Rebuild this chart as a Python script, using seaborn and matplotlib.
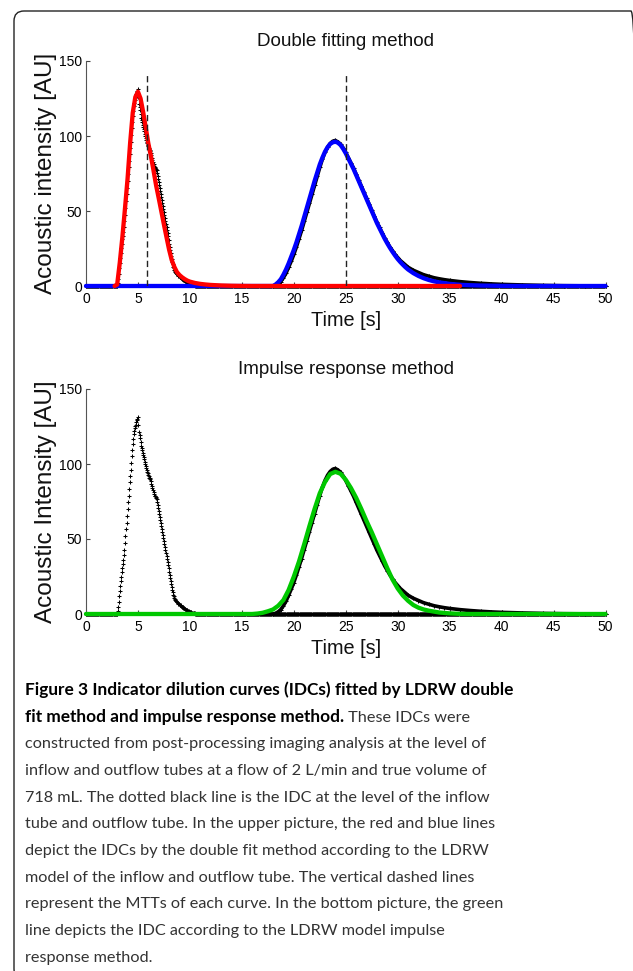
import numpy as np
import matplotlib
matplotlib.use("Agg")
import matplotlib.pyplot as plt
import matplotlib.transforms as mtransforms
from matplotlib.patches import FancyBboxPatch
import seaborn as sns

# ---------------- data ----------------
inflow_time = np.round(np.arange(0, 50.0001, 0.05), 2)
inflow_start = 3.0
inflow_peak = [0, 2, 5, 8, 12, 15.5, 19, 22, 25, 28,
               31, 33.5, 36, 39.5, 43, 47.5, 52, 56.5, 61, 65.5,
               70, 74.5, 79, 83.5, 88, 92, 96, 100.5, 105, 109,
               113, 116.5, 120, 122, 124, 125, 126, 128, 130, 129,
               131, 126, 121, 119, 117, 114.5, 112, 110.5, 109, 107.5,
               106, 104.5, 103, 101.5, 100, 98.5, 97, 96, 95, 94,
               93, 92, 91, 90.5, 90, 88.5, 87, 85.5, 84, 82.5,
               81, 80, 79, 78.5, 78, 77.5, 77, 75, 73, 71,
               69, 67, 65, 63, 61, 59, 57, 55, 53, 51,
               49, 47, 45, 43, 41, 39, 37, 35, 33, 30.5,
               28, 26, 24, 22, 20, 18, 16, 14.5, 13, 12,
               11, 10.2, 9.5, 9, 8.5, 8.1, 7.8, 7.4, 7, 6.6,
               6.3, 6, 5.7, 5.3, 5, 4.7, 4.5, 4.2, 4, 3.7,
               3.5, 3.2, 3, 2.8, 2.6, 2.4, 2.2, 2, 1.8, 1.6,
               1.5, 1.35, 1.2, 1.05, 0.9, 0.8, 0.7, 0.6, 0.5, 0.4,
               0.3, 0.25, 0.2, 0.15, 0.1, 0.05, 0]

outflow_time = [0, 18.0, 18.25, 18.5, 18.75, 19.0, 19.25, 19.5, 19.75, 20.0,
                20.25, 20.5, 20.75, 21.0, 21.25, 21.5, 21.75, 22.0, 22.25, 22.5,
                22.75, 23.0, 23.25, 23.5, 23.75, 24.0, 24.25, 24.5, 24.75, 25.0,
                25.25, 25.5, 25.75, 26.0, 26.25, 26.5, 26.75, 27.0, 27.25, 27.5,
                27.75, 28.0, 28.25, 28.5, 28.75, 29.0, 29.25, 29.5, 29.75, 30.0,
                30.25, 30.5, 30.75, 31.0, 31.5, 32.0, 32.5, 33.0, 33.5, 34.0,
                34.5, 35.0, 36.0, 37.0, 38.0, 39.0, 40.0, 42.0, 44.0, 46.0,
                48.0, 50.0]
outflow_values = [0, 0, 0.5, 1.5, 3, 5.5, 8.5, 12.5, 16.5, 21,
                  26, 31.5, 37, 43, 49, 55, 61, 67, 73, 79,
                  84.5, 89, 92.5, 95, 96.5, 97, 96, 94.5, 92, 89,
                  85.5, 82, 78.5, 74.5, 70.5, 66.5, 62.5, 58.5, 54.5, 50.5,
                  46.5, 42.5, 39, 35.5, 32, 29, 26, 23.5, 21, 19,
                  17, 15.5, 14, 12.5, 10.5, 9, 7.5, 6.5, 5.5, 4.8,
                  4.2, 3.7, 2.9, 2.3, 1.8, 1.4, 1.1, 0.7, 0.4, 0.2,
                  0.1, 0]

red_time = [2.75, 3.0, 3.25, 3.5, 3.75, 4.0, 4.25, 4.5, 4.75, 5.0,
            5.25, 5.5, 5.75, 6.0, 6.25, 6.5, 6.75, 7.0, 7.25, 7.5,
            7.75, 8.0, 8.25, 8.5, 8.75, 9.0, 9.25, 9.5, 9.75, 10.0,
            10.5, 11.0, 11.5, 12.0, 13.0, 14.0, 15.0, 16.0, 36.0]
red_values = [0, 1, 15.5, 32.5, 51.5, 71.5, 95.5, 115.5, 126, 129.5,
              125, 116, 105.5, 95, 86.5, 77, 67, 58.5, 49.8, 41,
              32.5, 24.2, 17.3, 12.8, 9.3, 7.3, 5.8, 4.6, 3.6, 2.9,
              2.0, 1.4, 1.0, 0.7, 0.35, 0.15, 0.05, 0, 0]

blue_time = [0, 18.0, 18.25, 18.5, 18.75, 19.0, 19.25, 19.5, 19.75, 20.0,
             20.25, 20.5, 20.75, 21.0, 21.25, 21.5, 21.75, 22.0, 22.25, 22.5,
             22.75, 23.0, 23.25, 23.5, 23.75, 24.0, 24.25, 24.5, 24.75, 25.0,
             25.25, 25.5, 25.75, 26.0, 26.25, 26.5, 26.75, 27.0, 27.25, 27.5,
             27.75, 28.0, 28.25, 28.5, 28.75, 29.0, 29.25, 29.5, 29.75, 30.0,
             30.25, 30.5, 30.75, 31.0, 31.5, 32.0, 32.5, 33.0, 33.5, 34.0,
             35.0, 36.0, 37.0, 38.0, 40.0, 42.0, 50.0]
blue_values = [0, 0, 1, 2.5, 4.5, 7.5, 11, 15, 19.5, 24,
               29, 34.5, 40, 46, 52, 58, 64, 70, 75.5, 81,
               85.5, 89.5, 92.5, 94.7, 95.8, 96.2, 95.5, 94, 91.5, 88.5,
               85, 81.5, 78, 74, 70, 66, 62, 58, 54, 50,
               46, 42, 38.5, 35, 31.5, 28.4, 25.5, 22.8, 20.3, 18,
               16, 14.2, 12.5, 11, 8.6, 6.7, 5.2, 4, 3.1, 2.4,
               1.4, 0.8, 0.5, 0.3, 0.1, 0, 0]

green_time = [0, 16.0, 16.5, 17.0, 17.5, 18.0, 18.5, 19.0, 19.5, 20.0,
              20.5, 21.0, 21.5, 22.0, 22.5, 23.0, 23.5, 24.0, 24.5, 25.0,
              25.5, 26.0, 26.5, 27.0, 27.5, 28.0, 28.5, 29.0, 29.5, 30.0,
              30.5, 31.0, 31.5, 32.0, 32.5, 33.0, 34.0, 35.0, 36.0, 37.0, 50.0]
green_values = [0, 0, 0.3, 0.8, 1.8, 3, 5.5, 9.3, 16, 24.9,
                35, 46.5, 58.5, 70, 80.5, 88, 93.3, 94.8, 93.5, 89.5,
                84, 77.5, 70, 62, 54.5, 46.5, 38.5, 30.5, 23, 17,
                12.3, 8.8, 6, 4.2, 3, 2.2, 1, 0.4, 0.1, 0, 0]

mtt_times = [5.84, 25.0]
mtt_top = 141

x_ticks = [0, 5, 10, 15, 20, 25, 30, 35, 40, 45, 50]
y_ticks = [0, 50, 100, 150]
titles = ["Double fitting method", "Impulse response method"]
ylabels = ["Acoustic intensity [AU]", "Acoustic Intensity [AU]"]
xlabel = "Time [s]"

caption_bold_1 = "Figure 3 Indicator dilution curves (IDCs) fitted by LDRW double"
caption_bold_2 = "fit method and impulse response method."
caption_reg_2 = " These IDCs were"
caption_lines = [
    "constructed from post-processing imaging analysis at the level of",
    "inflow and outflow tubes at a flow of 2 L/min and true volume of",
    "718 mL. The dotted black line is the IDC at the level of the inflow",
    "tube and outflow tube. In the upper picture, the red and blue lines",
    "depict the IDCs by the double fit method according to the LDRW",
    "model of the inflow and outflow tube. The vertical dashed lines",
    "represent the MTTs of each curve. In the bottom picture, the green",
    "line depicts the IDC according to the LDRW model impulse",
    "response method.",
]

inflow_values = np.zeros(len(inflow_time))
i0 = int(round(inflow_start / 0.05))
inflow_values[i0:i0 + len(inflow_peak)] = inflow_peak

# ---------------- style ----------------
sns.set_style("ticks")
AX_FONT = ["Liberation Sans", "DejaVu Sans"]
CAP_FONT = ["Lato", "DejaVu Sans"]
plt.rcParams["font.family"] = AX_FONT

tick_size = 10.0
title_size = 13.6
xlabel_size = 14.3

W, H = 633, 971
fig = plt.figure(figsize=(W / 100, H / 100), dpi=100)

def frac_box(left, top, right, bottom):
    return [left / W, 1 - bottom / H, (right - left) / W, (bottom - top) / H]

ax1 = fig.add_axes(frac_box(86, 61, 605.5, 286))
ax2 = fig.add_axes(frac_box(86, 389, 605.5, 614))

def draw_observed(ax):
    sns.lineplot(x=outflow_time, y=outflow_values, ax=ax, color="black",
                 linewidth=2.6, estimator=None, sort=False, clip_on=False, zorder=2)
    sns.scatterplot(x=inflow_time, y=inflow_values, ax=ax, marker="+", s=7,
                    color="black", linewidth=0.75, clip_on=False, zorder=3)
    sns.scatterplot(x=outflow_time, y=outflow_values, ax=ax, marker="+", s=7,
                    color="black", linewidth=0.75, clip_on=False, zorder=3)

draw_observed(ax1)
sns.lineplot(x=blue_time, y=blue_values, ax=ax1, color="#0000ff", linewidth=3.1,
             estimator=None, sort=False, clip_on=False, zorder=4)
sns.lineplot(x=red_time, y=red_values, ax=ax1, color="#ff0000", linewidth=3.1,
             estimator=None, sort=False, clip_on=False, zorder=5)
ax1.vlines(mtt_times, 0, mtt_top, colors="#222222", linewidth=1.0,
           linestyles=(0, (4.5, 2.5)), zorder=6)

draw_observed(ax2)
sns.lineplot(x=green_time, y=green_values, ax=ax2, color="#00c800", linewidth=3.1,
             estimator=None, sort=False, clip_on=False, zorder=5)

for ax, title, ylab in zip([ax1, ax2], titles, ylabels):
    ax.set_xlim(0, 50)
    ax.set_ylim(0, 150)
    ax.set_xticks(x_ticks)
    ax.set_yticks(y_ticks)
    ax.set_xticklabels([str(v) for v in x_ticks], fontsize=tick_size, family=AX_FONT)
    ax.set_yticklabels([str(v) for v in y_ticks], fontsize=tick_size, family=AX_FONT)
    ax.tick_params(direction="in", length=3, width=0.8, color="#444444",
                   labelcolor="black")
    ax.tick_params(axis="x", pad=4)
    ax.tick_params(axis="y", pad=3)
    for s in ["top", "right"]:
        ax.spines[s].set_visible(False)
    for s in ["left", "bottom"]:
        ax.spines[s].set_color("#555555")
        ax.spines[s].set_linewidth(0.8)
    ax.set_title(title, fontsize=title_size, family=AX_FONT, pad=11, color="#111111")
    ax.set_xlabel(xlabel, fontsize=xlabel_size, family=AX_FONT, color="#111111")
    ax.set_ylabel(ylab, fontsize=17.5, family=AX_FONT, color="#111111")
    ax.xaxis.set_label_coords(0.5, -0.11)
    ax.yaxis.set_label_coords(-0.056, 0.5)
    ax.set_facecolor("white")
    ax.grid(False)

# ---------------- frame ----------------
frame = FancyBboxPatch((14, -8), 627, 968, boxstyle="round,pad=0,rounding_size=10",
                       transform=mtransforms.IdentityTransform(), facecolor="none",
                       edgecolor="#222222", linewidth=1.0)
fig.add_artist(frame)

# ---------------- caption ----------------
x0 = 25 / W
base0 = 695
step = 26.67

def yb(i):
    return 1 - (base0 + step * i) / H

cap_size = 11.0
t1 = fig.text(x0, yb(0), caption_bold_1, fontsize=cap_size, fontweight="bold",
              family=CAP_FONT, color="black", va="baseline")
t2 = fig.text(x0, yb(1), caption_bold_2, fontsize=cap_size, fontweight="bold",
              family=CAP_FONT, color="black", va="baseline")
t2b = fig.text(0, 0, caption_reg_2, fontsize=cap_size, family=CAP_FONT,
               color="#333333", va="baseline")
others = []
for i, line in enumerate(caption_lines):
    others.append(fig.text(x0, yb(i + 2), line, fontsize=cap_size, family=CAP_FONT,
                           color="#333333", va="baseline"))

renderer = fig.canvas.get_renderer()
reg_size = cap_size * 462.0 / others[0].get_window_extent(renderer).width
bold_size = cap_size * 485.0 / t1.get_window_extent(renderer).width
for t in [t2b] + others:
    t.set_fontsize(reg_size)
for t in [t1, t2]:
    t.set_fontsize(bold_size)
fig.canvas.draw()
renderer = fig.canvas.get_renderer()
bb = t2.get_window_extent(renderer)
t2b.set_position((bb.x1 / W, yb(1)))

fig.savefig("out.png", dpi=100, facecolor="white")
